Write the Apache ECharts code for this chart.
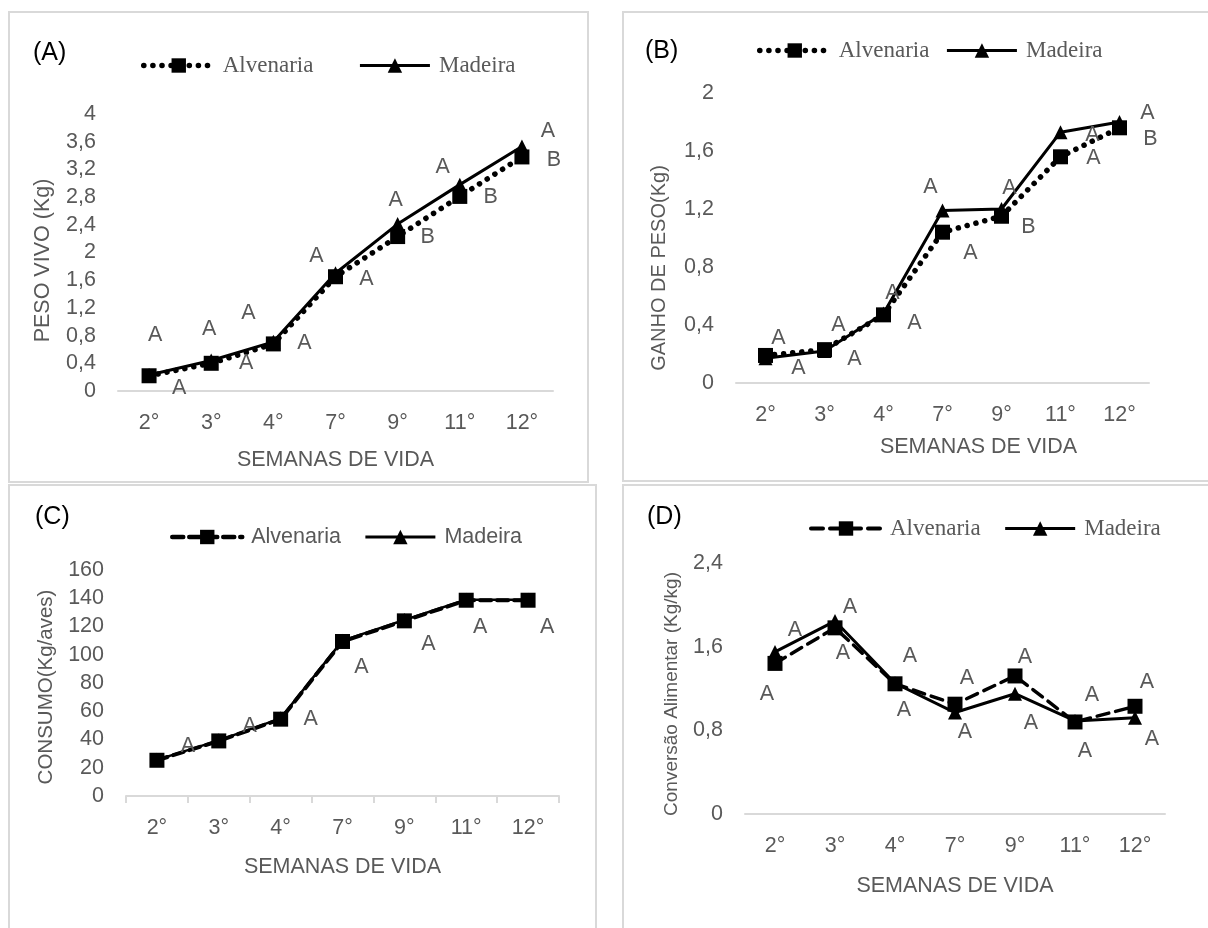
<!DOCTYPE html>
<html>
<head>
<meta charset="utf-8">
<script src="https://cdn.jsdelivr.net/npm/echarts@6/dist/echarts.min.js"></script>
<style>html,body{margin:0;padding:0;background:#fff}#c{width:1208px;height:928px}</style>
</head>
<body>
<div id="c"></div>
<script>
// ---------- data ----------
const weeks = ['2°', '3°', '4°', '7°', '9°', '11°', '12°'];

const pesoAlvenaria = [0.22, 0.40, 0.68, 1.65, 2.23, 2.81, 3.38];
const pesoMadeira   = [0.23, 0.44, 0.71, 1.70, 2.41, 2.98, 3.53];
const pesoLetrasAlvenaria = ['A', 'A', 'A', 'A', 'B', 'B', 'B'];
const pesoLetrasMadeira   = ['A', 'A', 'A', 'A', 'A', 'A', 'A'];

const ganhoAlvenaria = [0.19, 0.23, 0.47, 1.04, 1.15, 1.56, 1.76];
const ganhoMadeira   = [0.17, 0.22, 0.48, 1.19, 1.20, 1.73, 1.80];
const ganhoLetrasAlvenaria = ['A', 'A', 'A', 'A', 'B', 'A', 'B'];
const ganhoLetrasMadeira   = ['A', 'A', 'A', 'A', 'A', 'A', 'A'];

const consumoAlvenaria = [25.3, 39.0, 54.4, 109.4, 124.0, 138.6, 138.6];
const consumoMadeira   = [25.6, 39.4, 55.0, 110.0, 124.6, 139.0, 138.9];
const consumoLetras    = ['A', 'A', 'A', 'A', 'A', 'A', 'A'];

const conversaoAlvenaria = [1.44, 1.78, 1.245, 1.05, 1.32, 0.88, 1.03];
const conversaoMadeira   = [1.55, 1.845, 1.25, 0.97, 1.15, 0.89, 0.92];
const conversaoLetrasAlvenaria = ['A', 'A', 'A', 'A', 'A', 'A', 'A'];
const conversaoLetrasMadeira   = ['A', 'A', 'A', 'A', 'A', 'A', 'A'];

// ---------- label placement (style) ----------
const offPesoAlv = [[30,12],[35,0],[31,-1],[31,2],[30,1],[31,1],[32,3]];
const offPesoMad = [[6,-40],[-2,-31],[-25,-29],[-19,-17],[-2,-24],[-17,-18],[26,-15]];
const offGanhoAlv = [[33,13],[30,9],[31,8],[28,21],[27,11],[33,1],[31,11]];
const offGanhoMad = [[13,-20],[14,-26],[9,-20],[-12,-23],[8,-21],[32,3],[28,-9]];
const offConsumo = [[31,-14],[31,-14],[30,1],[19,26],[24,24],[14,27],[19,27]];
const offConvAlv = [[-8,31],[8,25],[9,26],[10,28],[16,47],[10,29],[17,33]];
const offConvMad = [[20,-22],[15,-14],[15,-27],[12,-34],[10,-37],[17,-26],[12,-36]];

const SANS = 'Liberation Sans';
const SERIF = 'Liberation Serif';
const GRAY = '#595959';
const AXIS = '#d9d9d9';

function items(values, letters, offsets) {
  return values.map((v, i) => {
    const it = { value: v };
    if (letters) {
      it.label = {
        show: true, formatter: letters[i], position: 'inside',
        offset: offsets[i], color: GRAY, fontFamily: SANS, fontSize: 21.5
      };
    }
    return it;
  });
}

const grids = [
  { left: 118, right: 655, top: 114, bottom: 537 },
  { left: 736, right: 59,  top: 93,  bottom: 545 },
  { left: 126, right: 649, top: 570, bottom: 132 },
  { left: 745, right: 43,  top: 563, bottom: 114 }
];

function xAxis(gi, nameGap, ticks, namePad) {
  return {
    type: 'category', gridIndex: gi, data: weeks, boundaryGap: true,
    axisLine: { lineStyle: { color: AXIS, width: 2 } },
    axisTick: { show: ticks, alignWithLabel: false, length: 7, lineStyle: { color: AXIS, width: 2 } },
    axisLabel: { color: GRAY, fontFamily: SANS, fontSize: 21.5, margin: 21 },
    name: 'SEMANAS DE VIDA', nameLocation: 'middle', nameGap: nameGap,
    nameTextStyle: { color: GRAY, fontFamily: SANS, fontSize: 21.5, padding: namePad || 0 }
  };
}
function commaFmt(v) { return String(+v.toFixed(1)).replace('.', ','); }
function yAxis(gi, min, max, interval, name, nameGap, nameSize, namePad) {
  return {
    type: 'value', gridIndex: gi, min: min, max: max, interval: interval,
    splitLine: { show: false }, axisLine: { show: false }, axisTick: { show: false },
    axisLabel: { color: GRAY, fontFamily: SANS, fontSize: 21.5, margin: 22, formatter: commaFmt },
    name: name, nameLocation: 'middle', nameGap: nameGap,
    nameTextStyle: { color: GRAY, fontFamily: SANS, fontSize: nameSize, padding: namePad || 0 }
  };
}

function alvSeries(name, gi, data, letters, offs, lineType, width) {
  return {
    type: 'line', name: name, xAxisIndex: gi, yAxisIndex: gi,
    data: items(data, letters, offs),
    symbol: 'rect', symbolSize: 15,
    itemStyle: { color: '#000' },
    lineStyle: { color: '#000', width: width, type: lineType, cap: 'round' },
    z: 3, animation: false
  };
}
function madSeries(name, gi, data, letters, offs, width) {
  return {
    type: 'line', name: name, xAxisIndex: gi, yAxisIndex: gi,
    data: items(data, letters, offs),
    symbol: 'triangle', symbolSize: 14,
    itemStyle: { color: '#000' },
    lineStyle: { color: '#000', width: width, type: 'solid' },
    z: 4, animation: false
  };
}

const DOT = [0.1, 9];
const DASH = [11, 6];
const DASH_D = [12, 7];

function legend(alvName, madName, alvType, alvWidth, left, top, gap, font, size) {
  return {
    data: [
      { name: alvName, lineStyle: { width: alvWidth, type: alvType, cap: 'round', color: '#000' } },
      { name: madName, lineStyle: { width: 3, type: 'solid', color: '#000' } }
    ],
    left: left, top: top, padding: 0, itemGap: gap,
    itemWidth: 70, itemHeight: 18, selectedMode: false,
    formatter: n => n.split(' ')[0],
    textStyle: { color: GRAY, fontFamily: font, fontSize: size, padding: [0, 0, 0, 4] }
  };
}

function frame(x, y, w, h) {
  return { type: 'rect', shape: { x: x, y: y, width: w, height: h }, silent: true,
    style: { fill: 'none', stroke: AXIS, lineWidth: 2 }, z: -1 };
}
function panelTitle(t, left, top) {
  return { text: t, left: left, top: top, padding: 0,
    textStyle: { color: '#000', fontFamily: SANS, fontSize: 25, fontWeight: 'normal' } };
}

const option = {
  backgroundColor: '#fff',
  animation: false,
  title: [
    panelTitle('(A)', 33, 41),
    panelTitle('(B)', 645, 39),
    panelTitle('(C)', 35, 505),
    panelTitle('(D)', 647, 505)
  ],
  legend: [
    legend('Alvenaria (A)', 'Madeira (A)', DOT, 5.5, 141, 54, 45, SERIF, 23),
    legend('Alvenaria (B)', 'Madeira (B)', DOT, 5.5, 757, 39, 16, SERIF, 23),
    legend('Alvenaria (C)', 'Madeira (C)', DASH, 4.5, 170, 526, 23, SANS, 21.5),
    legend('Alvenaria (D)', 'Madeira (D)', DASH_D, 4, 809, 517, 23, SERIF, 23)
  ],
  grid: grids,
  xAxis: [xAxis(0, 58, false), xAxis(1, 53, false, [0, 0, 0, 72]), xAxis(2, 60, true), xAxis(3, 61, false)],
  yAxis: [
    yAxis(0, 0, 4, 0.4, 'PESO VIVO (Kg)', 64, 21.5, [0, 16, 0, 0]),
    yAxis(1, 0, 2, 0.4, 'GANHO DE PESO(Kg)', 67, 20, [0, 60, 0, 0]),
    yAxis(2, 0, 160, 20, 'CONSUMO(Kg/aves)', 69, 20.5, [0, 8, 0, 0]),
    yAxis(3, 0, 2.4, 0.8, 'Conversão Alimentar (Kg/kg)', 64, 19, [0, 11, 0, 0])
  ],
  series: [
    alvSeries('Alvenaria (A)', 0, pesoAlvenaria, pesoLetrasAlvenaria, offPesoAlv, DOT, 5.5),
    madSeries('Madeira (A)', 0, pesoMadeira, pesoLetrasMadeira, offPesoMad, 3),
    alvSeries('Alvenaria (B)', 1, ganhoAlvenaria, ganhoLetrasAlvenaria, offGanhoAlv, DOT, 5.5),
    madSeries('Madeira (B)', 1, ganhoMadeira, ganhoLetrasMadeira, offGanhoMad, 3),
    alvSeries('Alvenaria (C)', 2, consumoAlvenaria, null, null, DASH, 4),
    madSeries('Madeira (C)', 2, consumoMadeira, consumoLetras, offConsumo, 2.5),
    alvSeries('Alvenaria (D)', 3, conversaoAlvenaria, conversaoLetrasAlvenaria, offConvAlv, DASH_D, 3.5),
    madSeries('Madeira (D)', 3, conversaoMadeira, conversaoLetrasMadeira, offConvMad, 3)
  ],
  graphic: [
    frame(9, 12, 579, 470),
    frame(623, 12, 600, 469),
    frame(9, 485, 587, 460),
    frame(623, 485, 600, 460)
  ]
};

const chart = echarts.init(document.getElementById('c'), null, { renderer: 'canvas' });
chart.setOption(option);
</script>
</body>
</html>
